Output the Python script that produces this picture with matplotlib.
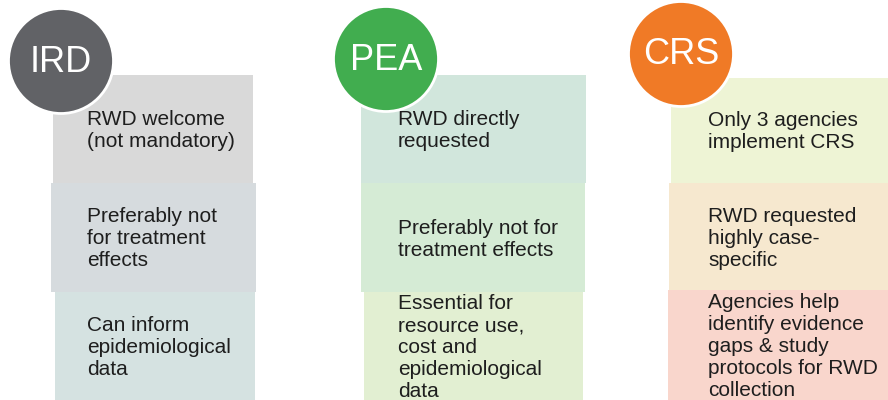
import matplotlib
matplotlib.use("Agg")
import matplotlib.pyplot as plt
from matplotlib.patches import Rectangle, Circle

# ---- data ----
categories = ["IRD", "PEA", "CRS"]
ird_items = [
    ["RWD welcome", "(not mandatory)"],
    ["Preferably not", "for treatment", "effects"],
    ["Can inform", "epidemiological", "data"],
]
pea_items = [
    ["RWD directly", "requested"],
    ["Preferably not for", "treatment effects"],
    ["Essential for", "resource use,", "cost and", "epidemiological", "data"],
]
crs_items = [
    ["Only 3 agencies", "implement CRS"],
    ["RWD requested", "highly case-", "specific"],
    ["Agencies help", "identify evidence", "gaps & study", "protocols for RWD", "collection"],
]
items = [ird_items, pea_items, crs_items]

# ---- style / layout ----
circle_colors = ["#616266", "#41ad4f", "#f07a26"]
box_colors = [
    ["#d9d9d9", "#d6dbde", "#d5e2e1"],
    ["#d1e6dc", "#d5ebd5", "#e2efd2"],
    ["#eef4d5", "#f6e8cf", "#f9d6cc"],
]
box_x = [
    [(53, 253), (51, 256), (55, 255)],
    [(361, 586), (361, 585), (364, 583)],
    [(671, 890), (669, 890), (668, 890)],
]
box_y = [
    [(75, 183), (183, 292), (292, 400)],
    [(75, 183), (183, 292), (292, 400)],
    [(78, 183), (183, 290), (290, 400)],
]
text_x = [87, 398, 708]
circles = [(61, 61), (386, 59), (681, 54)]
radius = 52.5
line_gap = 22

fig = plt.figure(figsize=(8.88, 4.0), dpi=100)
ax = fig.add_axes([0, 0, 1, 1])
ax.set_xlim(0, 888)
ax.set_ylim(400, 0)
ax.axis("off")
font = ["Liberation Sans", "DejaVu Sans"]

for c, cat in enumerate(categories):
    for b, lines in enumerate(items[c]):
        x0, x1 = box_x[c][b]
        y0, y1 = box_y[c][b]
        ax.add_patch(Rectangle((x0, y0), x1 - x0, y1 - y0,
                               facecolor=box_colors[c][b], edgecolor="none", zorder=1))
        cy = (y0 + y1) / 2
        n = len(lines)
        first = cy - (n - 1) * line_gap / 2 + 7
        for i, ln in enumerate(lines):
            ax.text(text_x[c], first + i * line_gap, ln, fontsize=15, family=font,
                    color="#1e1e1e", ha="left", va="baseline", zorder=3)
    cx, ccy = circles[c]
    ax.add_patch(Circle((cx, ccy), radius, facecolor=circle_colors[c],
                        edgecolor="white", linewidth=2.0, zorder=4))
    ax.text(cx, ccy + 10.5, cat, fontsize=26, family=font, color="white",
            ha="center", va="baseline", zorder=5)

fig.savefig("out.png", dpi=100)
